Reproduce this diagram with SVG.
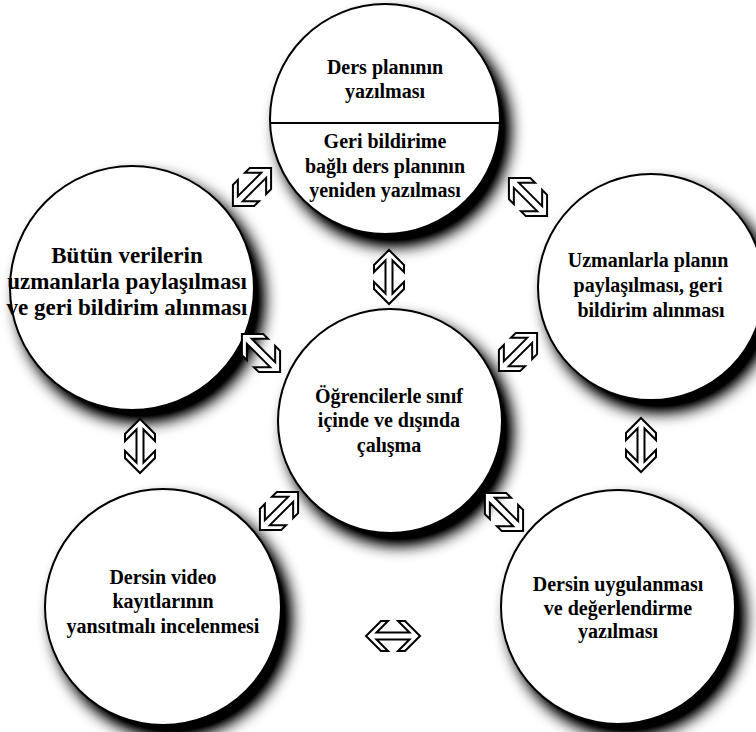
<svg xmlns="http://www.w3.org/2000/svg" xmlns:xlink="http://www.w3.org/1999/xlink" width="756" height="732" viewBox="0 0 756 732">
<defs>
<filter id="sh" x="-30%" y="-30%" width="170%" height="170%">
<feGaussianBlur in="SourceAlpha" stdDeviation="8"/>
<feOffset dx="9" dy="11" result="b"/>
<feComponentTransfer><feFuncA type="linear" slope="1.3"/></feComponentTransfer>
<feMerge><feMergeNode/><feMergeNode in="SourceGraphic"/></feMerge>
</filter>
<polygon id="arr" points="0,-27 15,-12 15,-5 3.5,-16.5 3.5,16.5 15,5 15,12 0,27 -15,12 -15,5 -3.5,16.5 -3.5,-16.5 -15,-5 -15,-12"/>
</defs>
<style>
.c{fill:#fff;stroke:#000;stroke-width:2}
.t{font-family:"Liberation Serif","Times New Roman",serif;font-weight:bold;font-size:20px;fill:#000;text-anchor:middle}
.big{font-size:23px}
.a{fill:#fff;stroke:#000;stroke-width:2;stroke-linejoin:miter}
</style>
<rect width="756" height="732" fill="#fff"/>
<g id="node-left">
<circle class="c" cx="132" cy="288" r="122" filter="url(#sh)"/>
<text class="t big" x="127" y="263">Bütün verilerin</text>
<text class="t big" x="127" y="289">uzmanlarla paylaşılması</text>
<text class="t big" x="127" y="315">ve geri bildirim alınması</text>
</g>
<g id="node-top">
<circle class="c" cx="385" cy="119" r="115" filter="url(#sh)"/>
<line x1="270" y1="123" x2="500" y2="123" stroke="#000" stroke-width="2"/>
<text class="t" x="385" y="74">Ders planının</text>
<text class="t" x="385" y="98">yazılması</text>
<text class="t" x="385" y="148">Geri bildirime</text>
<text class="t" x="385" y="173">bağlı ders planının</text>
<text class="t" x="385" y="197">yeniden yazılması</text>
</g>
<g id="node-right">
<circle class="c" cx="651" cy="287" r="113" filter="url(#sh)"/>
<text class="t" x="648" y="267">Uzmanlarla planın</text>
<text class="t" x="648" y="292">paylaşılması, geri</text>
<text class="t" x="651" y="317">bildirim alınması</text>
</g>
<g id="node-center">
<circle class="c" cx="390" cy="421" r="112" filter="url(#sh)"/>
<text class="t" x="389" y="403">Öğrencilerle sınıf</text>
<text class="t" x="389" y="427">içinde ve dışında</text>
<text class="t" x="389" y="452">çalışma</text>
</g>
<g id="node-bottom-left">
<circle class="c" cx="163" cy="607" r="118" filter="url(#sh)"/>
<text class="t" x="163" y="584">Dersin video</text>
<text class="t" x="163" y="608">kayıtlarının</text>
<text class="t" x="163" y="633">yansıtmalı incelenmesi</text>
</g>
<g id="node-bottom-right">
<circle class="c" cx="618" cy="607" r="117" filter="url(#sh)"/>
<text class="t" x="618" y="591">Dersin uygulanması</text>
<text class="t" x="618" y="615">ve değerlendirme</text>
<text class="t" x="618" y="638">yazılması</text>
</g>
<g id="connectors">
<use xlink:href="#arr" class="a" transform="translate(252,187) rotate(45)"/>
<use xlink:href="#arr" class="a" transform="translate(528,197) rotate(-45)"/>
<use xlink:href="#arr" class="a" transform="translate(389,277)"/>
<use xlink:href="#arr" class="a" transform="translate(261,353) rotate(-45)"/>
<use xlink:href="#arr" class="a" transform="translate(518,352) rotate(45)"/>
<use xlink:href="#arr" class="a" transform="translate(140,446)"/>
<use xlink:href="#arr" class="a" transform="translate(641,445)"/>
<use xlink:href="#arr" class="a" transform="translate(279,511) rotate(45)"/>
<use xlink:href="#arr" class="a" transform="translate(504,512) rotate(-45)"/>
<use xlink:href="#arr" class="a" transform="translate(393,636) rotate(90)"/>
</g>
</svg>
